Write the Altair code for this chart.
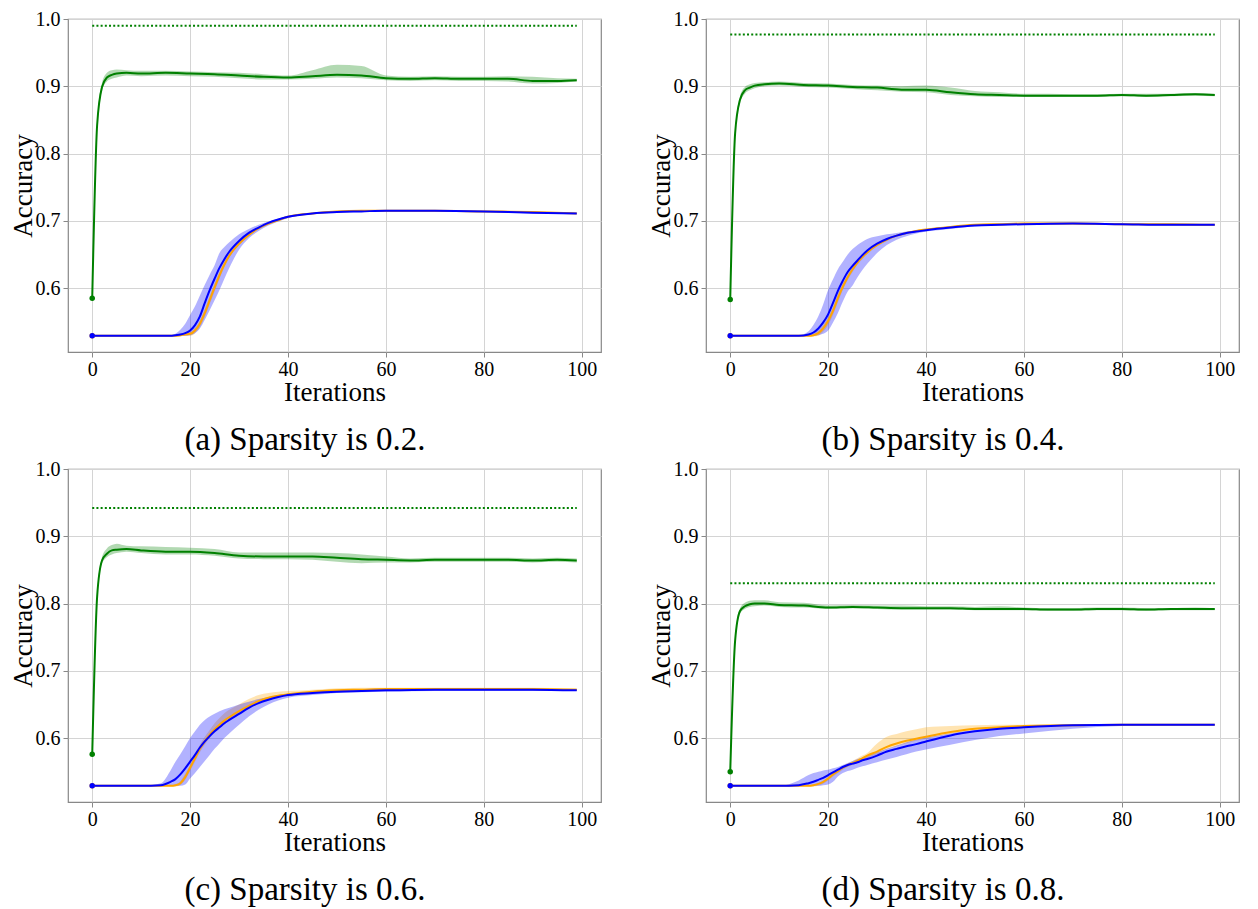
import altair as alt
import pandas as pd

# x grids (iterations)
GX = [0, 1, 2, 3, 4, 5, 7, 10, 15, 20, 25, 30, 35, 40, 45, 50, 55, 60, 65, 70, 75, 80, 85, 90, 95, 99]
BX = [0, 10, 14, 16, 17, 18, 19, 20, 21, 22, 23, 24, 25, 26, 27, 28, 30, 32, 34, 36, 38, 40, 45, 50, 55, 60, 70, 80, 90, 99]

# ---- (a) sparsity 0.2
A_G = [0.585, 0.842, 0.899, 0.913, 0.917, 0.919, 0.920, 0.919, 0.920, 0.919, 0.918, 0.916, 0.914, 0.913, 0.915, 0.917, 0.916, 0.912, 0.911, 0.912, 0.911, 0.911, 0.911, 0.908, 0.908, 0.909]
A_GH = [0.585, 0.846, 0.905, 0.920, 0.924, 0.925, 0.924, 0.923, 0.923, 0.922, 0.921, 0.920, 0.918, 0.916, 0.924, 0.932, 0.930, 0.916, 0.914, 0.915, 0.914, 0.914, 0.915, 0.914, 0.912, 0.911]
A_GL = [0.585, 0.838, 0.893, 0.907, 0.911, 0.913, 0.916, 0.915, 0.916, 0.915, 0.914, 0.912, 0.910, 0.910, 0.911, 0.913, 0.912, 0.909, 0.908, 0.909, 0.908, 0.908, 0.907, 0.904, 0.905, 0.907]
A_B = [0.529, 0.529, 0.529, 0.529, 0.530, 0.531, 0.533, 0.537, 0.545, 0.558, 0.578, 0.597, 0.614, 0.630, 0.643, 0.654, 0.670, 0.682, 0.690, 0.697, 0.702, 0.706, 0.711, 0.713, 0.714, 0.715, 0.715, 0.714, 0.712, 0.711]
A_BH = [0.529, 0.529, 0.529, 0.530, 0.532, 0.538, 0.547, 0.560, 0.573, 0.589, 0.605, 0.620, 0.634, 0.652, 0.661, 0.668, 0.680, 0.688, 0.694, 0.699, 0.703, 0.707, 0.712, 0.714, 0.715, 0.716, 0.716, 0.715, 0.713, 0.712]
A_BL = [0.529, 0.529, 0.529, 0.529, 0.529, 0.529, 0.529, 0.530, 0.533, 0.540, 0.553, 0.567, 0.582, 0.597, 0.614, 0.630, 0.657, 0.674, 0.685, 0.693, 0.699, 0.704, 0.710, 0.712, 0.713, 0.714, 0.714, 0.713, 0.711, 0.710]
A_O = [0.529, 0.529, 0.529, 0.529, 0.529, 0.530, 0.531, 0.532, 0.537, 0.547, 0.563, 0.582, 0.601, 0.619, 0.635, 0.648, 0.666, 0.679, 0.689, 0.696, 0.701, 0.706, 0.711, 0.714, 0.715, 0.715, 0.715, 0.714, 0.713, 0.711]
A_OH = [0.529, 0.529, 0.529, 0.529, 0.530, 0.531, 0.533, 0.535, 0.541, 0.552, 0.569, 0.588, 0.607, 0.624, 0.639, 0.651, 0.668, 0.681, 0.690, 0.697, 0.702, 0.707, 0.712, 0.715, 0.716, 0.716, 0.716, 0.715, 0.714, 0.712]
A_OL = [0.529, 0.529, 0.529, 0.529, 0.528, 0.528, 0.529, 0.529, 0.533, 0.542, 0.557, 0.576, 0.595, 0.614, 0.631, 0.645, 0.664, 0.677, 0.688, 0.695, 0.700, 0.705, 0.710, 0.713, 0.714, 0.714, 0.714, 0.713, 0.712, 0.710]

# ---- (b) sparsity 0.4
B_G = [0.583, 0.830, 0.880, 0.894, 0.898, 0.901, 0.903, 0.904, 0.902, 0.901, 0.899, 0.898, 0.895, 0.895, 0.891, 0.888, 0.887, 0.886, 0.886, 0.886, 0.886, 0.887, 0.886, 0.887, 0.888, 0.887]
B_GH = [0.583, 0.834, 0.885, 0.899, 0.903, 0.905, 0.906, 0.907, 0.905, 0.904, 0.902, 0.901, 0.900, 0.901, 0.898, 0.893, 0.891, 0.889, 0.889, 0.888, 0.888, 0.889, 0.889, 0.889, 0.890, 0.889]
B_GL = [0.583, 0.826, 0.875, 0.889, 0.894, 0.897, 0.900, 0.901, 0.899, 0.898, 0.896, 0.894, 0.892, 0.891, 0.887, 0.885, 0.884, 0.884, 0.884, 0.884, 0.884, 0.885, 0.884, 0.885, 0.886, 0.885]
B_B = [0.529, 0.529, 0.529, 0.531, 0.534, 0.540, 0.549, 0.561, 0.578, 0.596, 0.611, 0.624, 0.633, 0.641, 0.649, 0.656, 0.666, 0.673, 0.678, 0.682, 0.684, 0.686, 0.690, 0.693, 0.694, 0.695, 0.696, 0.695, 0.694, 0.694]
B_BH = [0.529, 0.529, 0.530, 0.536, 0.545, 0.558, 0.576, 0.597, 0.613, 0.628, 0.639, 0.650, 0.658, 0.664, 0.669, 0.673, 0.677, 0.680, 0.682, 0.684, 0.686, 0.688, 0.692, 0.694, 0.695, 0.696, 0.697, 0.696, 0.695, 0.695]
B_BL = [0.529, 0.529, 0.529, 0.529, 0.529, 0.530, 0.532, 0.537, 0.549, 0.563, 0.580, 0.595, 0.604, 0.616, 0.627, 0.636, 0.652, 0.664, 0.672, 0.677, 0.681, 0.684, 0.688, 0.692, 0.693, 0.694, 0.695, 0.694, 0.693, 0.693]
B_O = [0.529, 0.529, 0.529, 0.529, 0.530, 0.533, 0.540, 0.551, 0.566, 0.585, 0.602, 0.616, 0.628, 0.638, 0.646, 0.653, 0.664, 0.672, 0.678, 0.682, 0.685, 0.687, 0.691, 0.694, 0.695, 0.696, 0.696, 0.695, 0.695, 0.694]
B_OH = [0.529, 0.529, 0.529, 0.530, 0.532, 0.537, 0.545, 0.557, 0.572, 0.591, 0.607, 0.620, 0.632, 0.641, 0.649, 0.655, 0.666, 0.674, 0.679, 0.683, 0.686, 0.688, 0.692, 0.695, 0.696, 0.697, 0.697, 0.696, 0.696, 0.695]
B_OL = [0.529, 0.529, 0.529, 0.528, 0.528, 0.529, 0.535, 0.545, 0.560, 0.579, 0.597, 0.612, 0.624, 0.635, 0.643, 0.651, 0.662, 0.670, 0.677, 0.681, 0.684, 0.686, 0.690, 0.693, 0.694, 0.695, 0.695, 0.694, 0.694, 0.693]

# ---- (c) sparsity 0.6
C_G = [0.576, 0.810, 0.864, 0.874, 0.879, 0.880, 0.881, 0.879, 0.877, 0.877, 0.875, 0.871, 0.870, 0.870, 0.870, 0.868, 0.866, 0.865, 0.864, 0.865, 0.865, 0.865, 0.865, 0.864, 0.865, 0.864]
C_GH = [0.576, 0.814, 0.869, 0.882, 0.887, 0.889, 0.886, 0.885, 0.884, 0.883, 0.881, 0.876, 0.876, 0.876, 0.876, 0.875, 0.873, 0.870, 0.867, 0.868, 0.868, 0.868, 0.868, 0.867, 0.868, 0.867]
C_GL = [0.576, 0.806, 0.859, 0.869, 0.873, 0.875, 0.877, 0.875, 0.873, 0.873, 0.871, 0.867, 0.866, 0.866, 0.865, 0.862, 0.860, 0.861, 0.861, 0.862, 0.862, 0.862, 0.862, 0.861, 0.862, 0.861]
C_B = [0.529, 0.529, 0.530, 0.535, 0.539, 0.546, 0.555, 0.565, 0.575, 0.586, 0.595, 0.603, 0.610, 0.616, 0.622, 0.627, 0.636, 0.645, 0.652, 0.657, 0.661, 0.664, 0.667, 0.669, 0.670, 0.671, 0.672, 0.672, 0.672, 0.671]
C_BH = [0.529, 0.529, 0.533, 0.552, 0.565, 0.576, 0.588, 0.600, 0.610, 0.620, 0.627, 0.632, 0.636, 0.640, 0.643, 0.645, 0.650, 0.654, 0.658, 0.661, 0.664, 0.666, 0.669, 0.671, 0.672, 0.673, 0.673, 0.673, 0.673, 0.672]
C_BL = [0.529, 0.529, 0.529, 0.529, 0.529, 0.529, 0.531, 0.540, 0.548, 0.557, 0.566, 0.575, 0.584, 0.592, 0.600, 0.607, 0.620, 0.632, 0.642, 0.650, 0.656, 0.660, 0.664, 0.667, 0.668, 0.669, 0.670, 0.670, 0.670, 0.670]
C_O = [0.529, 0.529, 0.529, 0.529, 0.530, 0.533, 0.542, 0.556, 0.570, 0.584, 0.595, 0.605, 0.613, 0.620, 0.626, 0.631, 0.640, 0.648, 0.655, 0.660, 0.663, 0.665, 0.669, 0.671, 0.672, 0.673, 0.673, 0.673, 0.673, 0.672]
C_OH = [0.529, 0.529, 0.529, 0.529, 0.531, 0.536, 0.547, 0.560, 0.576, 0.590, 0.602, 0.612, 0.622, 0.630, 0.637, 0.642, 0.650, 0.658, 0.664, 0.667, 0.669, 0.670, 0.672, 0.674, 0.675, 0.675, 0.675, 0.675, 0.675, 0.674]
C_OL = [0.529, 0.529, 0.529, 0.528, 0.528, 0.530, 0.538, 0.551, 0.565, 0.579, 0.590, 0.600, 0.608, 0.615, 0.621, 0.627, 0.636, 0.645, 0.652, 0.657, 0.661, 0.663, 0.667, 0.669, 0.670, 0.671, 0.671, 0.671, 0.671, 0.670]

# ---- (d) sparsity 0.8
D_G = [0.550, 0.745, 0.789, 0.796, 0.799, 0.800, 0.800, 0.798, 0.797, 0.794, 0.795, 0.794, 0.793, 0.793, 0.793, 0.792, 0.792, 0.792, 0.791, 0.791, 0.792, 0.792, 0.791, 0.792, 0.792, 0.792]
D_GH = [0.550, 0.748, 0.793, 0.801, 0.804, 0.805, 0.805, 0.802, 0.801, 0.797, 0.798, 0.797, 0.797, 0.796, 0.796, 0.795, 0.796, 0.794, 0.793, 0.793, 0.794, 0.794, 0.793, 0.793, 0.794, 0.793]
D_GL = [0.550, 0.742, 0.785, 0.792, 0.795, 0.796, 0.797, 0.795, 0.794, 0.792, 0.793, 0.792, 0.791, 0.791, 0.791, 0.790, 0.790, 0.790, 0.789, 0.789, 0.790, 0.790, 0.789, 0.790, 0.790, 0.790]
D_B = [0.529, 0.529, 0.530, 0.533, 0.535, 0.538, 0.541, 0.545, 0.549, 0.553, 0.557, 0.560, 0.562, 0.564, 0.567, 0.569, 0.574, 0.580, 0.584, 0.588, 0.591, 0.595, 0.604, 0.610, 0.614, 0.616, 0.619, 0.620, 0.620, 0.620]
D_BH = [0.529, 0.529, 0.537, 0.545, 0.548, 0.550, 0.552, 0.553, 0.555, 0.557, 0.560, 0.563, 0.566, 0.569, 0.571, 0.574, 0.579, 0.584, 0.589, 0.594, 0.598, 0.601, 0.607, 0.612, 0.616, 0.618, 0.620, 0.621, 0.621, 0.621]
D_BL = [0.529, 0.529, 0.529, 0.529, 0.529, 0.529, 0.530, 0.531, 0.535, 0.543, 0.548, 0.551, 0.553, 0.556, 0.558, 0.560, 0.564, 0.568, 0.572, 0.576, 0.580, 0.583, 0.590, 0.597, 0.603, 0.607, 0.614, 0.618, 0.619, 0.619]
D_O = [0.529, 0.529, 0.529, 0.529, 0.530, 0.532, 0.535, 0.540, 0.546, 0.551, 0.556, 0.560, 0.563, 0.566, 0.570, 0.574, 0.580, 0.587, 0.592, 0.596, 0.599, 0.602, 0.609, 0.614, 0.616, 0.618, 0.619, 0.620, 0.620, 0.620]
D_OH = [0.529, 0.529, 0.529, 0.530, 0.531, 0.533, 0.537, 0.542, 0.548, 0.553, 0.558, 0.562, 0.566, 0.570, 0.574, 0.578, 0.592, 0.602, 0.606, 0.610, 0.613, 0.616, 0.618, 0.619, 0.620, 0.620, 0.621, 0.621, 0.621, 0.621]
D_OL = [0.529, 0.529, 0.529, 0.528, 0.528, 0.529, 0.532, 0.537, 0.543, 0.548, 0.553, 0.557, 0.560, 0.563, 0.567, 0.570, 0.576, 0.583, 0.588, 0.592, 0.596, 0.599, 0.606, 0.612, 0.614, 0.617, 0.618, 0.619, 0.619, 0.619]

REF = [0.990, 0.977, 0.942, 0.830]
REF_X = [0, 99]
CAPTIONS = ["(a) Sparsity is 0.2.", "(b) Sparsity is 0.4.", "(c) Sparsity is 0.6.", "(d) Sparsity is 0.8."]
X_TICKS = [0, 20, 40, 60, 80, 100]
Y_TICKS = [0.6, 0.7, 0.8, 0.9, 1.0]

FONT = "Liberation Serif, Times New Roman, serif"
GREEN, ORANGE, BLUE = "green", "orange", "blue"
W, H = 533, 333


def xenc():
    return alt.X("x:Q", scale=alt.Scale(domain=[-4.95, 103.95], nice=False, zero=False),
                 axis=alt.Axis(values=X_TICKS, title="Iterations", format="d",
                               labelPadding=2, titlePadding=0, labelFlush=False))


def yenc(field):
    return alt.Y(f"{field}:Q", scale=alt.Scale(domain=[0.505, 1.0], nice=False, zero=False),
                 axis=alt.Axis(values=Y_TICKS, title="Accuracy", format=".1f",
                               labelPadding=3, titlePadding=-2))


def panel(g, gl, gh, o, ol, oh, b, bl, bh, ref, caption):
    gdf = pd.DataFrame({"x": GX, "y": g, "lo": gl, "hi": gh})
    odf = pd.DataFrame({"x": BX, "y": o, "lo": ol, "hi": oh})
    bdf = pd.DataFrame({"x": BX, "y": b, "lo": bl, "hi": bh})
    rdf = pd.DataFrame({"x": REF_X, "y": [ref, ref]})
    layers = []
    for df, col in [(gdf, GREEN), (odf, ORANGE), (bdf, BLUE)]:
        layers.append(alt.Chart(df).mark_area(color=col, opacity=0.3, interpolate="monotone")
                      .encode(x=xenc(), y=yenc("lo"), y2="hi:Q"))
    for df, col in [(gdf, GREEN), (odf, ORANGE), (bdf, BLUE)]:
        layers.append(alt.Chart(df).mark_line(color=col, strokeWidth=2, interpolate="monotone")
                      .encode(x=xenc(), y=yenc("y")))
    for df, col in [(gdf, GREEN), (odf, ORANGE), (bdf, BLUE)]:
        layers.append(alt.Chart(df.iloc[:1]).mark_point(color=col, filled=True, size=30, opacity=1)
                      .encode(x=xenc(), y=yenc("y")))
    layers.append(alt.Chart(rdf).mark_line(color=GREEN, strokeWidth=2, strokeDash=[2, 2.2])
                  .encode(x=xenc(), y=yenc("y")))
    return alt.layer(*layers).properties(
        width=W, height=H,
        title=alt.TitleParams(text=caption, orient="bottom", font=FONT, fontSize=33,
                              fontWeight="normal", color="black", offset=19, anchor="middle",
                              frame="bounds"))


pa = panel(A_G, A_GL, A_GH, A_O, A_OL, A_OH, A_B, A_BL, A_BH, REF[0], CAPTIONS[0])
pb = panel(B_G, B_GL, B_GH, B_O, B_OL, B_OH, B_B, B_BL, B_BH, REF[1], CAPTIONS[1])
pc = panel(C_G, C_GL, C_GH, C_O, C_OL, C_OH, C_B, C_BL, C_BH, REF[2], CAPTIONS[2])
pd_ = panel(D_G, D_GL, D_GH, D_O, D_OL, D_OH, D_B, D_BL, D_BH, REF[3], CAPTIONS[3])

chart = alt.vconcat(
    alt.hconcat(pa, pb, spacing=44),
    alt.hconcat(pc, pd_, spacing=44),
    spacing=0,
).properties(
    padding={"left": 0, "top": 0, "right": 5, "bottom": 0}
).configure_view(
    stroke="#888888", strokeWidth=1.2
).configure_axis(
    labelFont=FONT, labelFontSize=20, labelColor="black",
    titleFont=FONT, titleFontSize=27, titleFontWeight="normal", titleColor="black",
    domain=False, tickColor="#888888", tickSize=5, tickWidth=1,
    gridColor="#d4d4d4", gridWidth=1
)

chart.save("out.html", embed_options={"renderer": "svg", "actions": False})
